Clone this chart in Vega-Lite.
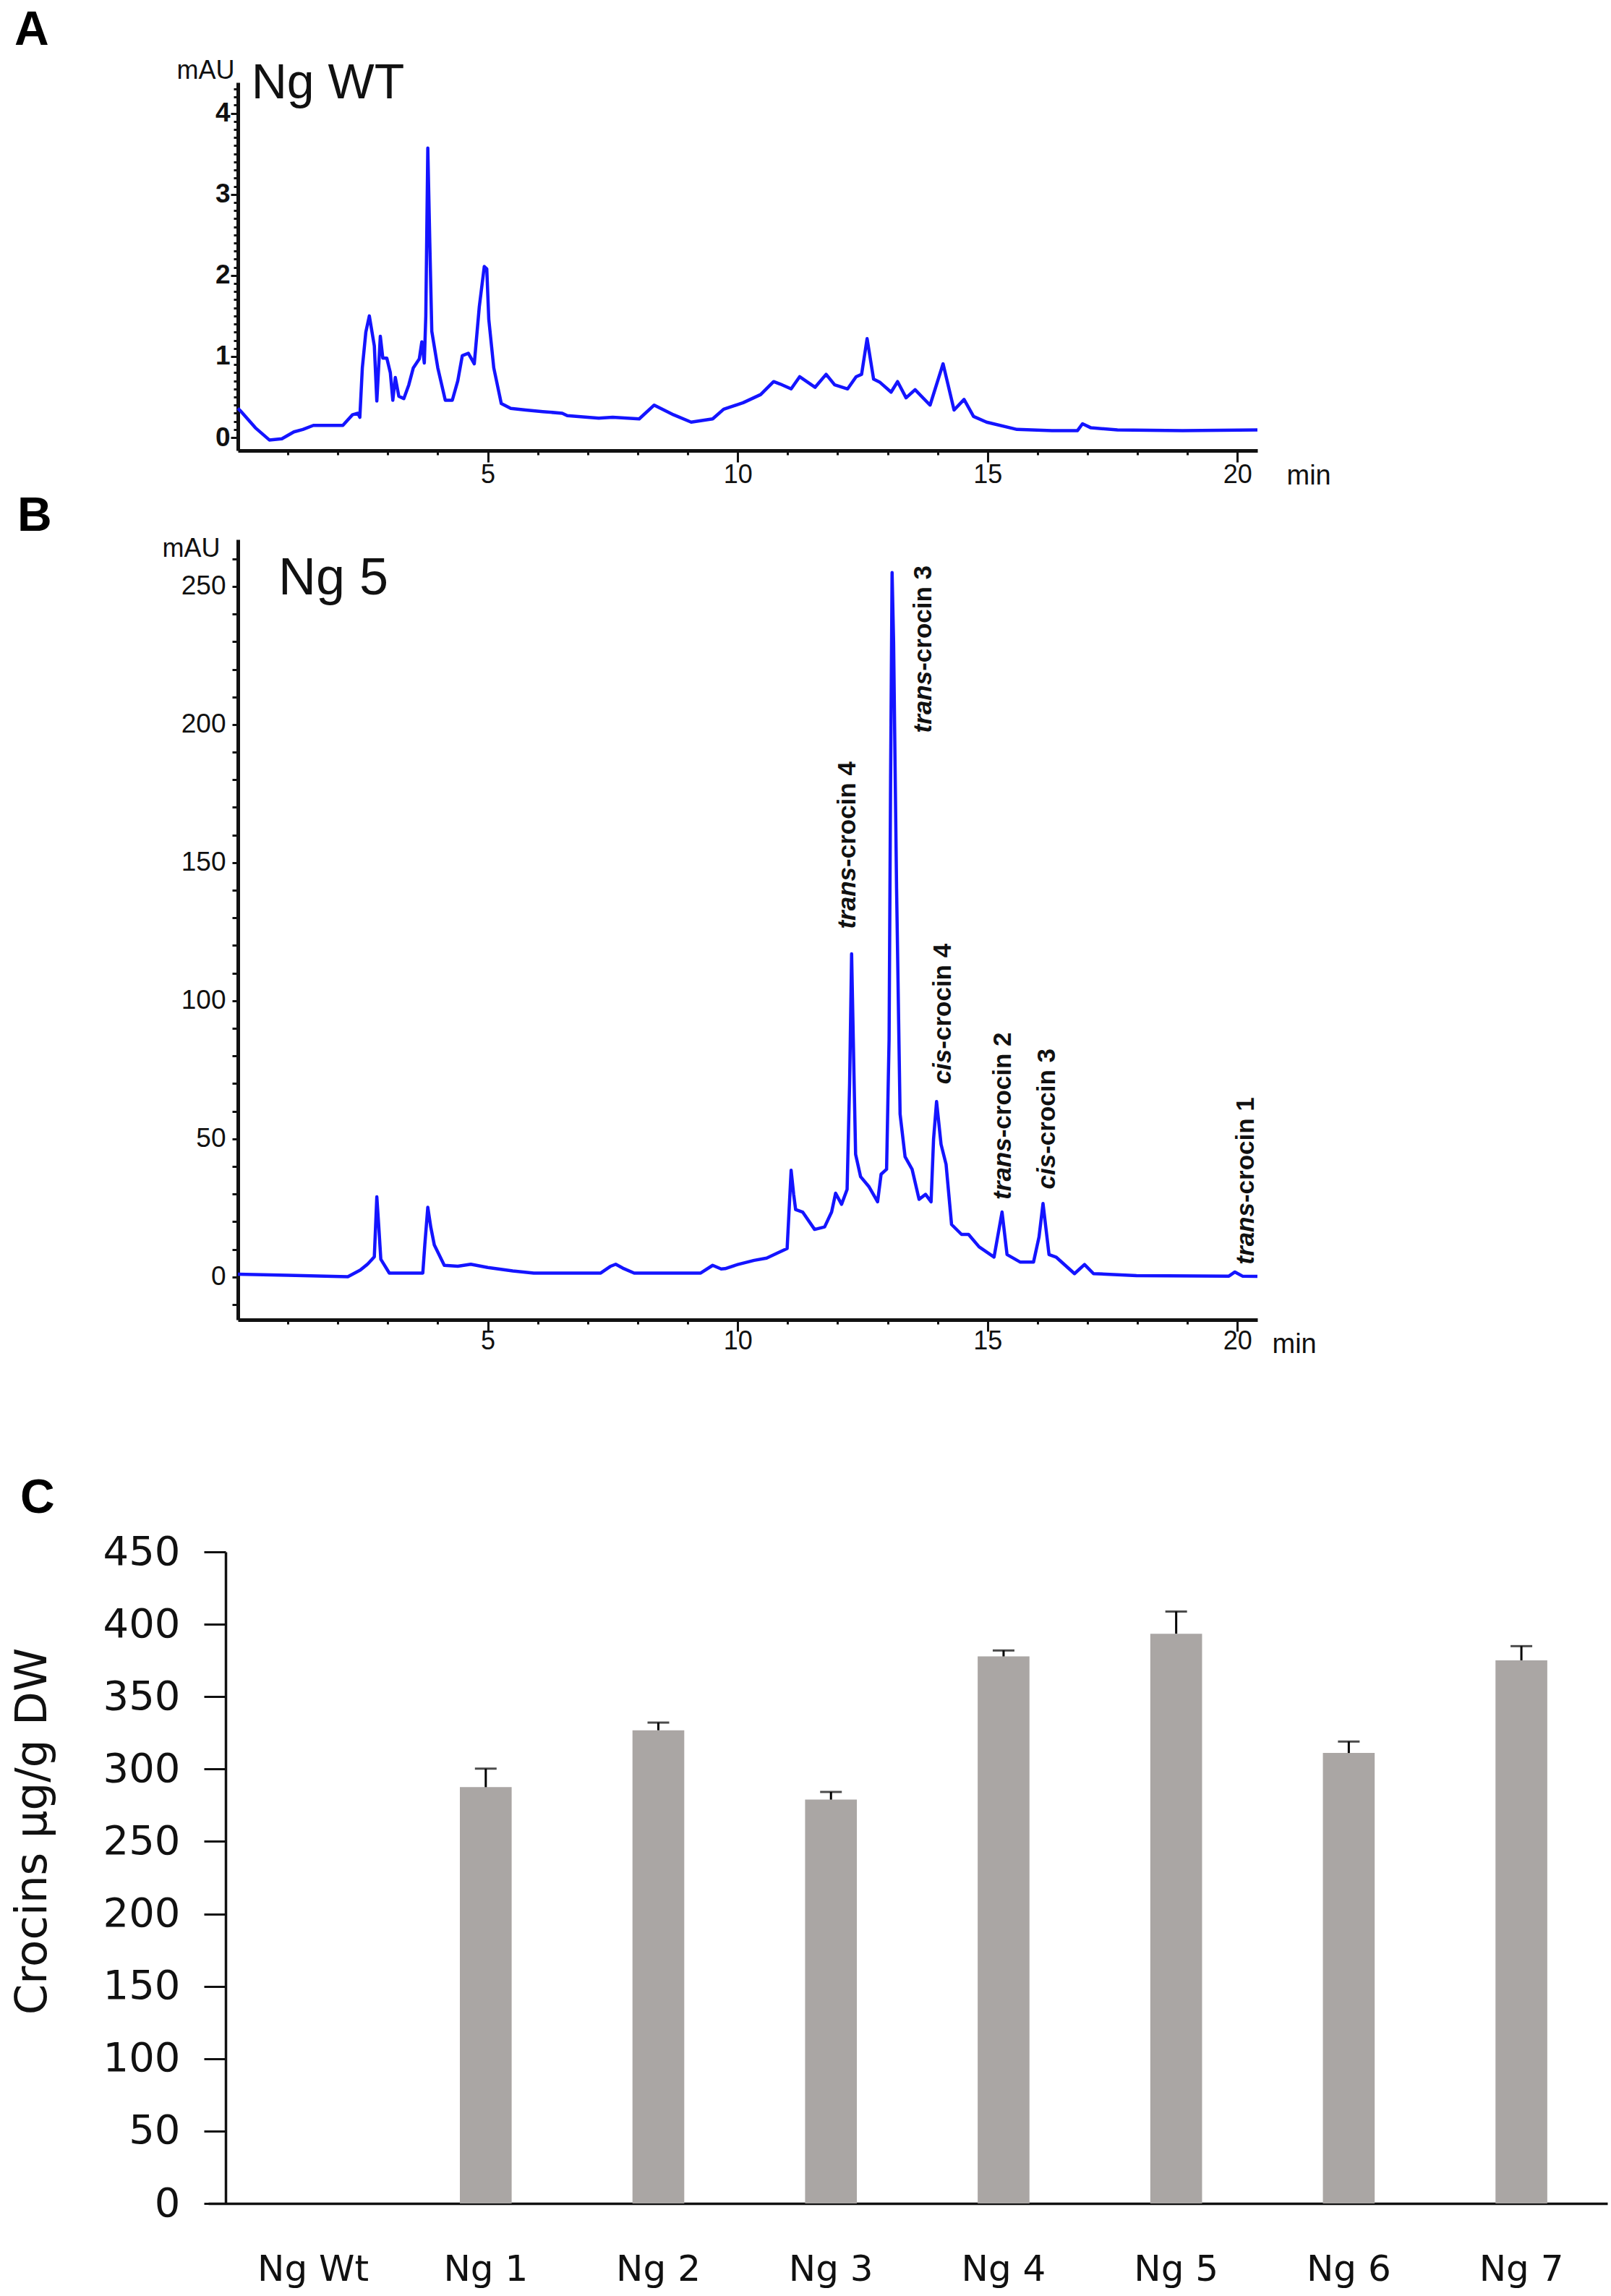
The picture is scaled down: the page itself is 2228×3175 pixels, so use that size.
{
  "$schema": "https://vega.github.io/schema/vega-lite/v6.json",
  "background": "white",
  "padding": {"left": 14, "top": 9, "right": 0, "bottom": 12},
  "bounds": "flush",
  "spacing": 123,
  "config": {
    "view": {"stroke": null},
    "axis": {"grid": false, "domainColor": "#111111", "tickColor": "#111111", "labelColor": "#111111", "titleColor": "#111111", "labelOverlap": false, "labelFlush": false}
  },
  "datasets": {
    "ngwt": [
      {"t": 0, "v": 0.36}, {"t": 0.05, "v": 0.33}, {"t": 0.35, "v": 0.12}, {"t": 0.63, "v": -0.03}, {"t": 0.88, "v": -0.015},
      {"t": 1.12, "v": 0.07}, {"t": 1.3, "v": 0.1}, {"t": 1.51, "v": 0.15}, {"t": 1.8, "v": 0.15}, {"t": 2.1, "v": 0.15},
      {"t": 2.29, "v": 0.28}, {"t": 2.4, "v": 0.3}, {"t": 2.44, "v": 0.25}, {"t": 2.49, "v": 0.86}, {"t": 2.56, "v": 1.3},
      {"t": 2.63, "v": 1.5}, {"t": 2.73, "v": 1.13}, {"t": 2.78, "v": 0.45}, {"t": 2.85, "v": 1.25}, {"t": 2.9, "v": 0.98},
      {"t": 2.98, "v": 0.98}, {"t": 3.05, "v": 0.8}, {"t": 3.1, "v": 0.46}, {"t": 3.15, "v": 0.74}, {"t": 3.22, "v": 0.51},
      {"t": 3.32, "v": 0.48}, {"t": 3.42, "v": 0.65}, {"t": 3.51, "v": 0.86}, {"t": 3.63, "v": 0.97}, {"t": 3.68, "v": 1.18},
      {"t": 3.73, "v": 0.92}, {"t": 3.76, "v": 1.5}, {"t": 3.8, "v": 3.57}, {"t": 3.84, "v": 2.4}, {"t": 3.88, "v": 1.31},
      {"t": 4.0, "v": 0.86}, {"t": 4.15, "v": 0.46}, {"t": 4.29, "v": 0.46}, {"t": 4.4, "v": 0.7}, {"t": 4.49, "v": 1.01},
      {"t": 4.61, "v": 1.04}, {"t": 4.73, "v": 0.91}, {"t": 4.83, "v": 1.61}, {"t": 4.93, "v": 2.11}, {"t": 4.98, "v": 2.08},
      {"t": 5.02, "v": 1.46}, {"t": 5.12, "v": 0.86}, {"t": 5.27, "v": 0.42}, {"t": 5.46, "v": 0.36}, {"t": 5.76, "v": 0.34},
      {"t": 6.1, "v": 0.32}, {"t": 6.49, "v": 0.3}, {"t": 6.59, "v": 0.27}, {"t": 7.22, "v": 0.24}, {"t": 7.5, "v": 0.25},
      {"t": 8.03, "v": 0.23}, {"t": 8.33, "v": 0.4}, {"t": 8.72, "v": 0.28}, {"t": 9.07, "v": 0.19}, {"t": 9.5, "v": 0.23},
      {"t": 9.72, "v": 0.35}, {"t": 10.11, "v": 0.43}, {"t": 10.46, "v": 0.53}, {"t": 10.72, "v": 0.69}, {"t": 10.85, "v": 0.66},
      {"t": 11.07, "v": 0.6}, {"t": 11.24, "v": 0.75}, {"t": 11.55, "v": 0.62}, {"t": 11.77, "v": 0.78}, {"t": 11.94, "v": 0.65},
      {"t": 12.2, "v": 0.6}, {"t": 12.37, "v": 0.75}, {"t": 12.48, "v": 0.78}, {"t": 12.59, "v": 1.22}, {"t": 12.72, "v": 0.72},
      {"t": 12.85, "v": 0.68}, {"t": 13.07, "v": 0.56}, {"t": 13.2, "v": 0.69}, {"t": 13.37, "v": 0.49}, {"t": 13.55, "v": 0.59},
      {"t": 13.85, "v": 0.4}, {"t": 14.11, "v": 0.91}, {"t": 14.33, "v": 0.34}, {"t": 14.53, "v": 0.47}, {"t": 14.72, "v": 0.26},
      {"t": 14.98, "v": 0.19}, {"t": 15.59, "v": 0.1}, {"t": 16.29, "v": 0.086}, {"t": 16.8, "v": 0.086}, {"t": 16.9, "v": 0.17},
      {"t": 17.07, "v": 0.12}, {"t": 17.6, "v": 0.095}, {"t": 18.9, "v": 0.086}, {"t": 20.4, "v": 0.095}
    ],
    "ng5": [
      {"t": 0, "v": 1.0}, {"t": 1.0, "v": 0.6}, {"t": 2.2, "v": 0.1}, {"t": 2.45, "v": 2.5}, {"t": 2.6, "v": 4.7},
      {"t": 2.73, "v": 7.3}, {"t": 2.78, "v": 29}, {"t": 2.82, "v": 18}, {"t": 2.86, "v": 6.4}, {"t": 3.03, "v": 1.4},
      {"t": 3.7, "v": 1.4}, {"t": 3.74, "v": 11.6}, {"t": 3.8, "v": 25.2}, {"t": 3.86, "v": 18}, {"t": 3.93, "v": 11.6},
      {"t": 4.13, "v": 4.2}, {"t": 4.4, "v": 3.9}, {"t": 4.66, "v": 4.6}, {"t": 5.0, "v": 3.4}, {"t": 5.5, "v": 2.2},
      {"t": 5.92, "v": 1.4}, {"t": 7.26, "v": 1.4}, {"t": 7.45, "v": 3.8}, {"t": 7.56, "v": 4.6}, {"t": 7.7, "v": 3.2},
      {"t": 7.93, "v": 1.4}, {"t": 9.26, "v": 1.4}, {"t": 9.5, "v": 4.2}, {"t": 9.67, "v": 2.9}, {"t": 9.75, "v": 3.0},
      {"t": 10.0, "v": 4.5}, {"t": 10.33, "v": 6.0}, {"t": 10.58, "v": 6.8}, {"t": 10.78, "v": 8.5}, {"t": 10.99, "v": 10.3},
      {"t": 11.07, "v": 38.6}, {"t": 11.12, "v": 30}, {"t": 11.16, "v": 24.4}, {"t": 11.3, "v": 23.5}, {"t": 11.54, "v": 17.2},
      {"t": 11.74, "v": 18.1}, {"t": 11.88, "v": 23.5}, {"t": 11.96, "v": 30.3}, {"t": 12.08, "v": 26.3}, {"t": 12.19, "v": 31.7},
      {"t": 12.24, "v": 70}, {"t": 12.28, "v": 117}, {"t": 12.32, "v": 80}, {"t": 12.36, "v": 44.4}, {"t": 12.46, "v": 36.3},
      {"t": 12.63, "v": 32.6}, {"t": 12.8, "v": 27.2}, {"t": 12.87, "v": 37.2}, {"t": 12.98, "v": 39}, {"t": 13.03, "v": 86},
      {"t": 13.06, "v": 180}, {"t": 13.09, "v": 255}, {"t": 13.12, "v": 230}, {"t": 13.15, "v": 185}, {"t": 13.18, "v": 140.6},
      {"t": 13.25, "v": 59}, {"t": 13.35, "v": 43.5}, {"t": 13.49, "v": 39}, {"t": 13.63, "v": 28.1}, {"t": 13.76, "v": 29.9},
      {"t": 13.87, "v": 27.2}, {"t": 13.92, "v": 49.9}, {"t": 13.98, "v": 63.5}, {"t": 14.07, "v": 48}, {"t": 14.17, "v": 40.8},
      {"t": 14.28, "v": 19}, {"t": 14.48, "v": 15.4}, {"t": 14.62, "v": 15.4}, {"t": 14.83, "v": 10.9}, {"t": 15.13, "v": 7.2},
      {"t": 15.29, "v": 23.5}, {"t": 15.39, "v": 8.1}, {"t": 15.65, "v": 5.4}, {"t": 15.92, "v": 5.4}, {"t": 16.03, "v": 14.5},
      {"t": 16.11, "v": 26.6}, {"t": 16.23, "v": 8.1}, {"t": 16.37, "v": 7.2}, {"t": 16.74, "v": 1.2}, {"t": 16.94, "v": 4.5},
      {"t": 17.12, "v": 1.2}, {"t": 17.98, "v": 0.5}, {"t": 19.83, "v": 0.3}, {"t": 19.95, "v": 1.8}, {"t": 20.1, "v": 0.3},
      {"t": 20.4, "v": 0.2}
    ],
    "peaks": [
      {"t": 12.2, "v": 148.4, "pre": "trans", "post": "-crocin 4"},
      {"t": 13.72, "v": 219.4, "pre": "trans", "post": "-crocin 3"},
      {"t": 14.1, "v": 82.5, "pre": "cis", "post": "-crocin 4"},
      {"t": 15.3, "v": 50.4, "pre": "trans", "post": "-crocin 2"},
      {"t": 16.19, "v": 44.5, "pre": "cis", "post": "-crocin 3"},
      {"t": 20.17, "v": 26.9, "pre": "trans", "post": "-crocin 1"}
    ],
    "crocins": [
      {"line": "Ng Wt", "value": 0, "upper": 0},
      {"line": "Ng 1", "value": 287.5, "upper": 300.3},
      {"line": "Ng 2", "value": 326.8, "upper": 332.1},
      {"line": "Ng 3", "value": 278.9, "upper": 284.2},
      {"line": "Ng 4", "value": 377.8, "upper": 381.9},
      {"line": "Ng 5", "value": 393.5, "upper": 408.8},
      {"line": "Ng 6", "value": 311.1, "upper": 319.0},
      {"line": "Ng 7", "value": 375.1, "upper": 384.9}
    ]
  },
  "vconcat": [
    {
      "width": 1410,
      "height": 509,
      "title": {"text": "A", "anchor": "start", "frame": "group", "orient": "top", "baseline": "alphabetic", "offset": -49, "dx": -309, "font": "Liberation Sans", "fontSize": 66, "fontWeight": "bold", "color": "black"},
      "encoding": {
        "x": {
          "field": "t", "type": "quantitative",
          "scale": {"domain": [0, 20.4], "nice": false, "zero": false},
          "axis": {
            "title": "min", "titleAngle": 0, "titleAlign": "left", "titleBaseline": "alphabetic", "titleX": 1450, "titleY": 46,
            "titleFont": "Liberation Sans", "titleFontSize": 38, "titleFontWeight": "normal",
            "values": [1, 2, 3, 4, 5, 6, 7, 8, 9, 10, 11, 12, 13, 14, 15, 16, 17, 18, 19, 20],
            "format": "d",
            "labelExpr": "datum.value % 5 === 0 ? datum.label : ''",
            "labelOverlap": false, "labelFlush": false,
            "labelFont": "Liberation Sans", "labelFontSize": 36, "labelPadding": 0,
            "domainWidth": 5, "tickWidth": 3,
            "tickSize": {"condition": {"test": "datum.value % 5 === 0", "value": 16}, "value": 6}
          }
        },
        "y": {
          "field": "v", "type": "quantitative",
          "scale": {"domain": [-0.16, 4.38], "nice": false, "zero": false},
          "axis": {
            "title": "mAU", "titleAngle": 0, "titleAlign": "right", "titleBaseline": "alphabetic", "titleX": -5, "titleY": -6,
            "titleFont": "Liberation Sans", "titleFontSize": 36, "titleFontWeight": "normal",
            "values": [0, 0.1, 0.2, 0.3, 0.4, 0.5, 0.6, 0.7, 0.8, 0.9, 1, 1.1, 1.2, 1.3, 1.4, 1.5, 1.6, 1.7, 1.8, 1.9, 2, 2.1, 2.2, 2.3, 2.4, 2.5, 2.6, 2.7, 2.8, 2.9, 3, 3.1, 3.2, 3.3, 3.4, 3.5, 3.6, 3.7, 3.8, 3.9, 4, 4.1, 4.2, 4.3],
            "labelExpr": "abs(datum.value - round(datum.value)) < 0.01 ? format(datum.value, 'd') : ''",
            "labelOverlap": false, "labelFlush": false,
            "labelFont": "Liberation Sans", "labelFontSize": 37, "labelFontWeight": "bold", "labelPadding": 1,
            "tickWidth": 3, "domainWidth": 5,
            "tickSize": {"condition": {"test": "abs(datum.value - round(datum.value)) < 0.01", "value": 10}, "value": 6}
          }
        }
      },
      "layer": [
        {
          "data": {"name": "ngwt"},
          "mark": {"type": "line", "color": "#1414ff", "strokeWidth": 4.5, "strokeJoin": "round"}
        },
        {
          "data": {"values": [{"t": 0.27, "v": 4.18, "name": "Ng WT"}]},
          "mark": {"type": "text", "align": "left", "baseline": "alphabetic", "font": "Liberation Sans", "fontSize": 68, "color": "#111111"},
          "encoding": {"text": {"field": "name"}}
        }
      ]
    },
    {
      "width": 1410,
      "height": 1079,
      "title": {"text": "B", "anchor": "start", "frame": "group", "orient": "top", "baseline": "alphabetic", "offset": -60, "dx": -305, "font": "Liberation Sans", "fontSize": 66, "fontWeight": "bold", "color": "black"},
      "encoding": {
        "x": {
          "field": "t", "type": "quantitative",
          "scale": {"domain": [0, 20.4], "nice": false, "zero": false},
          "axis": {
            "title": "min", "titleAngle": 0, "titleAlign": "left", "titleBaseline": "alphabetic", "titleX": 1430, "titleY": 45,
            "titleFont": "Liberation Sans", "titleFontSize": 38, "titleFontWeight": "normal",
            "values": [1, 2, 3, 4, 5, 6, 7, 8, 9, 10, 11, 12, 13, 14, 15, 16, 17, 18, 19, 20],
            "format": "d",
            "labelExpr": "datum.value % 5 === 0 ? datum.label : ''",
            "labelOverlap": false, "labelFlush": false,
            "labelFont": "Liberation Sans", "labelFontSize": 36, "labelPadding": -4,
            "domainWidth": 5, "tickWidth": 3,
            "tickSize": {"condition": {"test": "datum.value % 5 === 0", "value": 16}, "value": 6}
          }
        },
        "y": {
          "field": "v", "type": "quantitative",
          "scale": {"domain": [-15.5, 267], "nice": false, "zero": false},
          "axis": {
            "title": "mAU", "titleAngle": 0, "titleAlign": "right", "titleBaseline": "alphabetic", "titleX": -25, "titleY": 23,
            "titleFont": "Liberation Sans", "titleFontSize": 36, "titleFontWeight": "normal",
            "values": [-10, 0, 10, 20, 30, 40, 50, 60, 70, 80, 90, 100, 110, 120, 130, 140, 150, 160, 170, 180, 190, 200, 210, 220, 230, 240, 250, 260],
            "format": "d",
            "labelExpr": "datum.value % 50 === 0 && datum.value >= 0 ? datum.label : ''",
            "labelOverlap": false, "labelFlush": false,
            "labelFont": "Liberation Sans", "labelFontSize": 37, "labelPadding": 9,
            "tickSize": 8, "tickWidth": 3, "domainWidth": 5
          }
        }
      },
      "layer": [
        {
          "data": {"name": "ng5"},
          "mark": {"type": "line", "color": "#1414ff", "strokeWidth": 4.5, "strokeJoin": "round"}
        },
        {
          "data": {"values": [{"t": 0.81, "v": 247.1, "name": "Ng 5"}]},
          "mark": {"type": "text", "align": "left", "baseline": "alphabetic", "font": "Liberation Sans", "fontSize": 72, "color": "#111111"},
          "encoding": {"text": {"field": "name"}}
        },
        {
          "data": {"name": "peaks"},
          "mark": {"type": "text", "angle": 270, "align": "right", "baseline": "middle", "font": "Liberation Sans", "fontSize": 35, "fontWeight": "bold", "fontStyle": "italic", "color": "#111111"},
          "encoding": {"text": {"field": "pre"}}
        },
        {
          "data": {"name": "peaks"},
          "mark": {"type": "text", "angle": 270, "align": "left", "baseline": "middle", "font": "Liberation Sans", "fontSize": 35, "fontWeight": "bold", "color": "#111111"},
          "encoding": {"text": {"field": "post"}}
        }
      ]
    },
    {
      "width": 10,
      "height": 75,
      "data": {"values": [{}]},
      "mark": {"type": "text", "text": ""}
    },
    {
      "width": 1894,
      "height": 901,
      "title": {"text": "C", "anchor": "start", "frame": "group", "orient": "top", "baseline": "alphabetic", "offset": -40, "dx": -301, "font": "Liberation Sans", "fontSize": 66, "fontWeight": "bold", "color": "black"},
      "data": {"name": "crocins"},
      "encoding": {
        "x": {
          "field": "line", "type": "nominal", "sort": null,
          "scale": {"range": [-41, 1894], "paddingInner": 0.7, "paddingOuter": 0.403, "align": 0.568},
          "axis": {
            "title": null, "labelAngle": 0, "labelFont": "DejaVu Sans", "labelFontSize": 50, "labelColor": "#111111",
            "ticks": false, "tickSize": 0, "labelPadding": 66, "domainWidth": 3.5
          }
        }
      },
      "layer": [
        {
          "mark": {"type": "bar", "color": "#aaa6a4"},
          "encoding": {
            "y": {
              "field": "value", "type": "quantitative",
              "scale": {"domain": [0, 450], "nice": false},
              "axis": {
                "title": "Crocins µg/g DW", "titleFont": "DejaVu Sans", "titleFontSize": 61, "titleFontWeight": "normal",
                "titleAngle": 270, "titleBaseline": "middle", "titleX": -267, "titleY": 386,
                "values": [0, 50, 100, 150, 200, 250, 300, 350, 400, 450],
                "labelOverlap": false,
                "labelFont": "DejaVu Sans", "labelFontSize": 56, "labelPadding": 33,
                "tickSize": 30, "tickWidth": 3, "domainWidth": 3.5, "offset": 17
              }
            }
          }
        },
        {
          "transform": [{"filter": "datum.upper > datum.value"}],
          "mark": {"type": "rule", "color": "black", "strokeWidth": 3},
          "encoding": {
            "y": {"field": "value", "type": "quantitative"},
            "y2": {"field": "upper"}
          }
        },
        {
          "transform": [{"filter": "datum.upper > datum.value"}],
          "mark": {"type": "tick", "color": "black", "thickness": 3, "size": 30},
          "encoding": {
            "y": {"field": "upper", "type": "quantitative"}
          }
        }
      ]
    }
  ]
}
